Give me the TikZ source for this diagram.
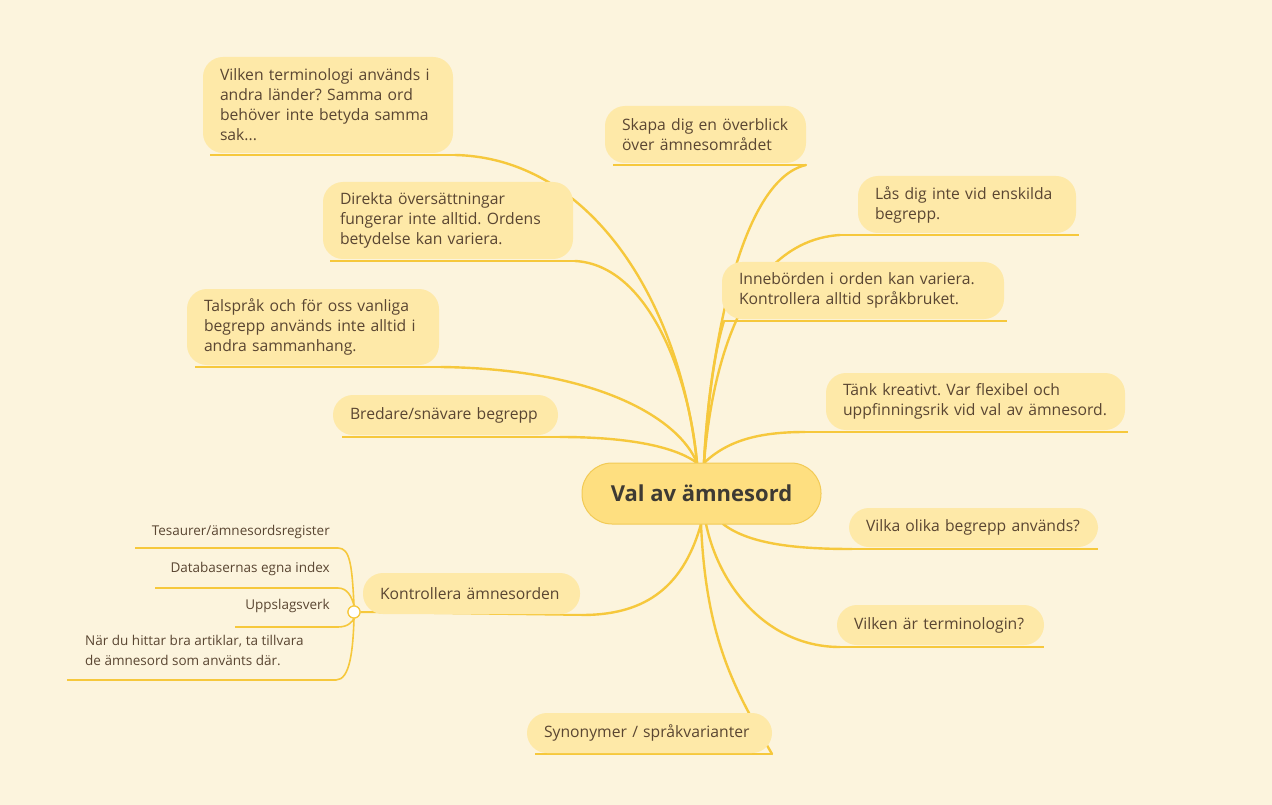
\documentclass[tikz,border=0pt]{standalone}
\usepackage{fontspec}
\setmainfont{Open Sans}
\usetikzlibrary{calc}
\frenchspacing
\definecolor{bgc}{HTML}{FCF4DD}
\definecolor{boxc}{HTML}{FEE9A8}
\definecolor{cenc}{HTML}{FEDF80}
\definecolor{cenb}{HTML}{F2CA55}
\definecolor{linec}{HTML}{F6C83C}
\definecolor{txtc}{HTML}{5A4632}
\definecolor{ctxt}{HTML}{3E3A33}
\tikzset{
  topic/.style={fill=boxc, rounded corners=20pt, inner xsep=17pt, inner ysep=0pt, align=left, text=txtc,
    font=\frenchspacing\fontsize{15.7}{20}\selectfont},
  central/.style={fill=cenc, draw=cenb, line width=1pt, rounded corners=30pt, inner sep=0pt,
    minimum width=239pt, minimum height=61pt, text=ctxt, font=\fontsize{22}{24}\selectfont\bfseries},
  branch/.style={draw=linec, line width=2.4pt, line cap=round},
  uline/.style={draw=linec, line width=2pt},
  sub/.style={draw=linec, line width=1.6pt},
  subtext/.style={text=txtc, inner sep=0pt, font=\frenchspacing\fontsize{13.5}{20}\selectfont},
  knob/.style={circle, fill=white, draw=linec, line width=1.2pt, minimum size=12pt, inner sep=0pt}
}
\begin{document}
\begin{tikzpicture}[x=1pt,y=-1pt]
\fill[bgc] (0,0) rectangle (1272,805);
\useasboundingbox (0,0) rectangle (1272,805);

% central
\coordinate (cT1) at (697,463);
\coordinate (cT2) at (704,463);
\coordinate (cB) at (701,524);

% underline ends (connector targets)
\coordinate (uL1) at (455,155);
\coordinate (uL2) at (575,261);
\coordinate (uL3) at (441,367);
\coordinate (uL4) at (560,437);
\coordinate (uL5) at (582,615);
\coordinate (uL6) at (772,754);
\coordinate (uR1) at (806,165);
\coordinate (uR2) at (840,235);
\coordinate (uR3) at (724,321);
\coordinate (uR4) at (805,432);
\coordinate (uR5) at (852,549);
\coordinate (uR6) at (840,647);

% branches
\draw[branch] (cT1) .. controls (680,300) and (590,158) .. (uL1);
\draw[branch] (cT1) .. controls (690,380) and (650,265) .. (uL2);
\draw[branch] (cT1) .. controls (680,420) and (600,369) .. (uL3);
\draw[branch] (cT1) .. controls (680,450) and (640,437) .. (uL4);
\draw[branch] (cB) .. controls (682,592) and (640,615) .. (uL5);
\draw[branch] (cB) .. controls (706,640) and (735,690) .. (uL6);
\draw[branch] (cT2) .. controls (710,350) and (740,180) .. (uR1);
\draw[branch] (cT2) .. controls (715,330) and (760,240) .. (uR2);
\draw[branch] (cT2) .. controls (706,420) and (712,360) .. (uR3);
\draw[branch] (cT2) .. controls (728,440) and (760,432) .. (uR4);
\draw[branch] ([xshift=22pt]cB) .. controls (750,545) and (800,549) .. (uR5);
\draw[branch] ([xshift=5pt]cB) .. controls (720,590) and (770,647) .. (uR6);

% underlines
\draw[uline] (210,155) -- (uL1);
\draw[uline] (330,261) -- (uL2);
\draw[uline] (195,367) -- (uL3);
\draw[uline] (342,437) -- (uL4);
\draw[uline] (535,754) -- (uL6);
\draw[uline] (uR1) -- (613,165);
\draw[uline] (uR2) -- (1079,235);
\draw[uline] (uR3) -- (1007,321);
\draw[uline] (uR4) -- (1128,432);
\draw[uline] (uR5) -- (1098,549);
\draw[uline] (uR6) -- (1044,647);

% Kontrollera sub-branches
\node[knob] (knob) at (354,612) {};
\draw[uline] (uL5) -- (knob.east);
\coordinate (s1) at (135,548);
\coordinate (s2) at (155,588);
\coordinate (s3) at (235,627);
\coordinate (s4) at (67,680);
\draw[sub] (s1) -- (338,548) .. controls (350,548) and (352,565) .. (knob.north);
\draw[sub] (s2) -- (338,588) .. controls (348,588) and (352,598) .. (knob.north);
\draw[sub] (s3) -- (338,627) .. controls (348,627) and (352,622) .. (knob.south);
\draw[sub] (s4) -- (336,680) .. controls (350,680) and (353,650) .. (knob.south);
\node[knob] at (354,612) {};

\node[subtext, anchor=east] (t1) at (330,532) {Tesaurer/ämnesordsregister};
\node[subtext, anchor=east] (t2) at (330,569) {Databasernas egna index};
\node[subtext, anchor=east] (t3) at (330,606) {Uppslagsverk};
\node[subtext, anchor=west, align=left] (t4) at (85,650) {När du hittar bra artiklar, ta tillvara\\de ämnesord som använts där.};

% topic boxes
\node[topic, text width=216pt, minimum height=96pt] (L1) at (328,105)
  {Vilken terminologi används i\\andra länder? Samma ord\\behöver inte betyda samma\\sak...};
\node[topic, text width=216pt, minimum height=77pt] (L2) at (448,220.5)
  {Direkta översättningar\\fungerar inte alltid. Ordens\\betydelse kan variera.};
\node[topic, text width=218pt, minimum height=76pt] (L3) at (313,327)
  {Talspråk och för oss vanliga\\begrepp används inte alltid i\\andra sammanhang.};
\node[topic, text width=191pt, minimum height=40pt] (L4) at (445.5,415)
  {Bredare/snävare begrepp};
\node[topic, text width=183pt, minimum height=41pt] (L5) at (471.5,593.5)
  {Kontrollera ämnesorden};
\node[topic, text width=211pt, minimum height=40pt] (L6) at (649.5,733)
  {Synonymer / språkvarianter};
\node[topic, text width=167pt, minimum height=57pt] (R1) at (705.5,134.5)
  {Skapa dig en överblick\\över ämnesområdet};
\node[topic, text width=184pt, minimum height=57pt] (R2) at (967,204.5)
  {Lås dig inte vid enskilda\\begrepp.};
\node[topic, text width=248pt, minimum height=57pt] (R3) at (863,290.5)
  {Innebörden i orden kan variera.\\Kontrollera alltid språkbruket.};
\node[topic, text width=265pt, minimum height=57pt] (R4) at (975.5,401.5)
  {Tänk kreativt. Var flexibel och\\uppfinningsrik vid val av ämnesord.};
\node[topic, text width=215pt, minimum height=39pt] (R5) at (973.5,527.5)
  {Vilka olika begrepp används?};
\node[topic, text width=173pt, minimum height=40pt] (R6) at (940.5,625)
  {Vilken är terminologin?};

\node[central] (C) at (701.5,493.5) {Val av ämnesord};
\end{tikzpicture}
\end{document}
